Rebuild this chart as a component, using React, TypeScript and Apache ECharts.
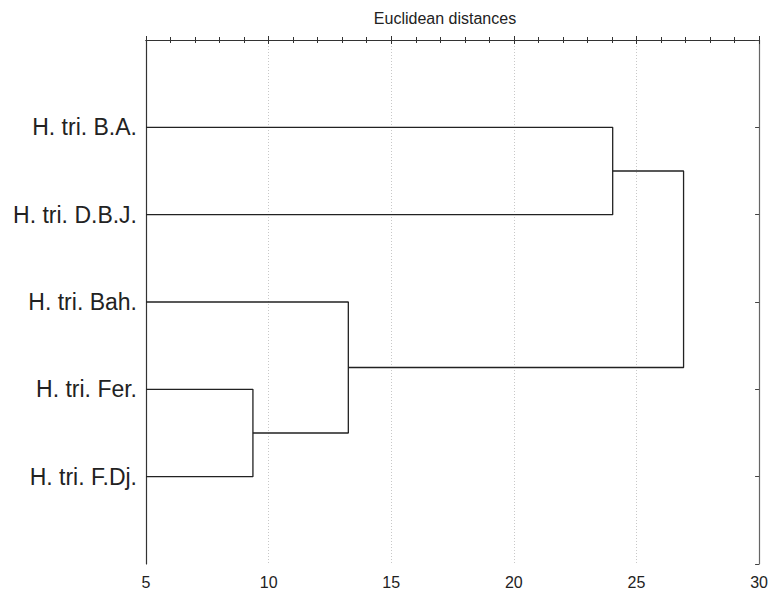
import React, { useEffect, useRef } from "react";
import * as echarts from "echarts";

const leafNames = ["H. tri. B.A.", "H. tri. D.B.J.", "H. tri. Bah.", "H. tri. Fer.", "H. tri. F.Dj."];
// merges: [clusterA, clusterB, distance]; new clusters get indices 5, 6, 7, 8
const merges: [number, number, number][] = [
  [3, 4, 9.36],
  [2, 5, 13.25],
  [0, 1, 24.03],
  [7, 6, 26.92],
];
const xTicks = [5, 10, 15, 20, 25, 30];
const titleText = "Euclidean distances";

const X_MIN = xTicks[0];
const X_MAX = xTicks[xTicks.length - 1];

function buildSeries() {
  const pos: { x: number; y: number }[] = leafNames.map((_, i) => ({ x: X_MIN, y: i + 1 }));
  const series: any[] = [];
  merges.forEach(([a, b, h]) => {
    const A = pos[a];
    const B = pos[b];
    series.push({
      type: "line",
      data: [
        [A.x, A.y],
        [h, A.y],
        [h, B.y],
        [B.x, B.y],
      ],
      symbol: "none",
      lineStyle: { color: "#222", width: 1.3 },
      silent: true,
      z: 5,
    });
    pos.push({ x: h, y: (A.y + B.y) / 2 });
  });
  return series;
}

export default function App() {
  const ref = useRef<HTMLDivElement>(null);
  useEffect(() => {
    if (!ref.current) return;
    const chart = echarts.init(ref.current, null, { renderer: "svg" });
    const font = "Liberation Sans, Arial, sans-serif";
    chart.setOption({
      animation: false,
      backgroundColor: "#fff",
      title: {
        text: titleText,
        left: 440,
        top: 5,
        textAlign: "center",
        textStyle: { fontSize: 16, fontWeight: "normal", color: "#222", fontFamily: font },
      },
      grid: { left: 146, right: 11, top: 40, bottom: 27, containLabel: false },
      xAxis: [
        {
          type: "value",
          min: X_MIN,
          max: X_MAX,
          interval: 5,
          position: "bottom",
          axisLine: { show: true, lineStyle: { color: "#333", width: 1.2 } },
          axisTick: { show: true, inside: true, length: 4, lineStyle: { color: "#333" } },
          minorTick: { show: true, splitNumber: 5, length: 3, lineStyle: { color: "#333" } },
          axisLabel: { color: "#222", fontSize: 16, fontFamily: font, margin: 10 },
          splitLine: { show: true, lineStyle: { color: "#c8c8c8", type: [1, 2], width: 1 } },
        },
        {
          type: "value",
          min: X_MIN,
          max: X_MAX,
          interval: 5,
          position: "top",
          axisLine: { show: true, lineStyle: { color: "#333", width: 1.2 } },
          axisTick: { show: true, inside: true, length: 4, lineStyle: { color: "#333" } },
          minorTick: { show: true, splitNumber: 5, length: 3, lineStyle: { color: "#333" } },
          axisLabel: { show: false },
          splitLine: { show: false },
        },
      ],
      yAxis: [
        {
          type: "value",
          min: 0,
          max: leafNames.length + 1,
          interval: 1,
          inverse: true,
          position: "left",
          axisLine: { show: true, lineStyle: { color: "#333", width: 1.2 } },
          axisTick: { show: false },
          axisLabel: {
            color: "#222",
            fontSize: 23,
            fontFamily: font,
            margin: 9,
            formatter: (v: number) => (v >= 1 && v <= leafNames.length ? leafNames[v - 1] : ""),
          },
          splitLine: { show: false },
        },
        {
          type: "value",
          min: 0,
          max: leafNames.length + 1,
          interval: 1,
          inverse: true,
          position: "right",
          axisLine: { show: true, lineStyle: { color: "#666", width: 1.2 } },
          axisTick: { show: true, inside: true, length: 4, lineStyle: { color: "#444" } },
          axisLabel: { show: false },
          splitLine: { show: false },
        },
      ],
      series: buildSeries(),
    });
    return () => chart.dispose();
  }, []);
  return (
    <div
      ref={ref}
      style={{ position: "fixed", left: 0, top: 0, width: 771, height: 591 }}
    />
  );
}
